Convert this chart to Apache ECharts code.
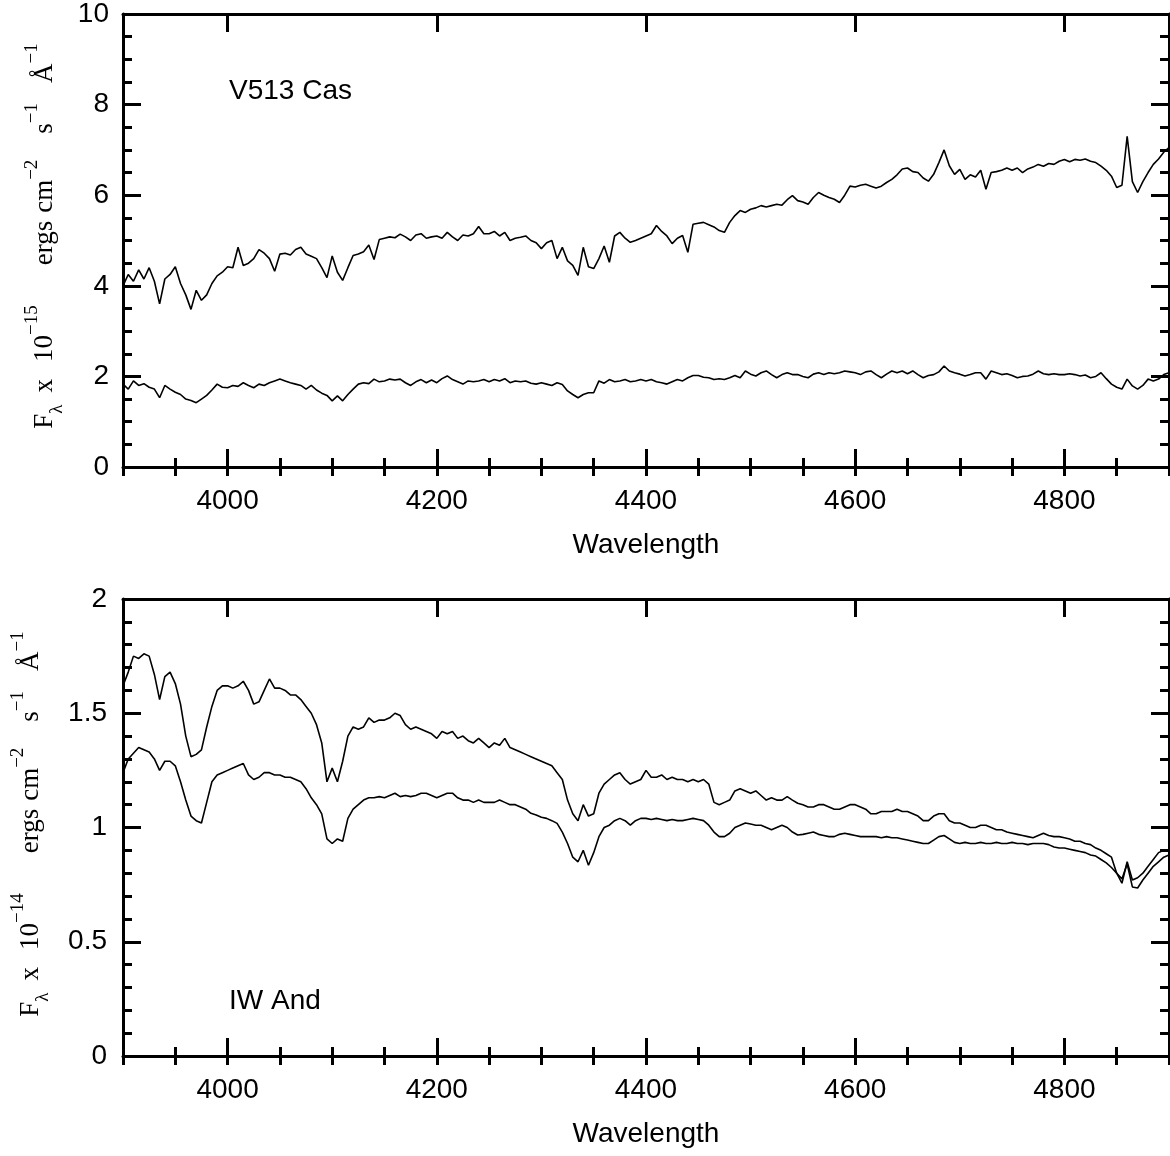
<!DOCTYPE html>
<html><head><meta charset="utf-8">
<script src="https://cdn.jsdelivr.net/npm/echarts@6/dist/echarts.min.js"></script>
<style>html,body{margin:0;padding:0;background:#fff}#chart{width:1170px;height:1156px}</style>
</head><body><div id="chart"></div>
<script>
const wavelength = [
3900,3905,3910,3915,3920,3925,3930,3935,3940,3945,
3950,3955,3960,3965,3970,3975,3980,3985,3990,3995,
4000,4005,4010,4015,4020,4025,4030,4035,4040,4045,
4050,4055,4060,4065,4070,4075,4080,4085,4090,4095,
4100,4105,4110,4115,4120,4125,4130,4135,4140,4145,
4150,4155,4160,4165,4170,4175,4180,4185,4190,4195,
4200,4205,4210,4215,4220,4225,4230,4235,4240,4245,
4250,4255,4260,4265,4270,4275,4280,4285,4290,4295,
4300,4305,4310,4315,4320,4325,4330,4335,4340,4345,
4350,4355,4360,4365,4370,4375,4380,4385,4390,4395,
4400,4405,4410,4415,4420,4425,4430,4435,4440,4445,
4450,4455,4460,4465,4470,4475,4480,4485,4490,4495,
4500,4505,4510,4515,4520,4525,4530,4535,4540,4545,
4550,4555,4560,4565,4570,4575,4580,4585,4590,4595,
4600,4605,4610,4615,4620,4625,4630,4635,4640,4645,
4650,4655,4660,4665,4670,4675,4680,4685,4690,4695,
4700,4705,4710,4715,4720,4725,4730,4735,4740,4745,
4750,4755,4760,4765,4770,4775,4780,4785,4790,4795,
4800,4805,4810,4815,4820,4825,4830,4835,4840,4845,
4850,4855,4860,4865,4870,4875,4880,4885,4890,4895,
4900];

// V513 Cas (x 1e-15)
const v513High = [
4.00,4.25,4.10,4.35,4.15,4.40,4.10,3.60,4.15,4.25,
4.42,4.05,3.80,3.48,3.90,3.68,3.80,4.05,4.22,4.30,
4.42,4.40,4.85,4.45,4.50,4.60,4.80,4.72,4.60,4.32,
4.70,4.72,4.68,4.80,4.85,4.70,4.65,4.60,4.40,4.18,
4.66,4.30,4.12,4.40,4.67,4.70,4.75,4.90,4.58,5.02,
5.05,5.08,5.06,5.14,5.08,5.00,5.12,5.15,5.05,5.08,
5.10,5.05,5.18,5.08,5.00,5.12,5.10,5.15,5.31,5.15,
5.15,5.20,5.10,5.18,5.00,5.05,5.07,5.10,5.00,4.95,
4.82,4.95,5.00,4.60,4.85,4.55,4.45,4.23,4.85,4.42,
4.38,4.60,4.88,4.52,5.10,5.18,5.05,4.96,5.00,5.05,
5.10,5.15,5.33,5.20,5.10,4.93,5.05,5.11,4.74,5.36,
5.38,5.40,5.35,5.30,5.22,5.18,5.40,5.55,5.66,5.62,
5.69,5.72,5.77,5.74,5.77,5.80,5.78,5.90,5.99,5.88,
5.85,5.80,5.95,6.06,6.00,5.95,5.91,5.84,6.00,6.20,
6.18,6.22,6.24,6.20,6.16,6.20,6.28,6.35,6.45,6.58,
6.60,6.52,6.50,6.38,6.31,6.46,6.72,7.00,6.65,6.46,
6.57,6.35,6.45,6.40,6.55,6.13,6.50,6.52,6.55,6.60,
6.55,6.60,6.50,6.58,6.62,6.68,6.64,6.70,6.68,6.75,
6.79,6.74,6.79,6.77,6.80,6.75,6.72,6.64,6.55,6.42,
6.17,6.22,7.30,6.30,6.06,6.30,6.50,6.68,6.80,6.95,
7.05];

const v513Low = [
1.83,1.72,1.90,1.80,1.84,1.76,1.72,1.53,1.80,1.72,
1.65,1.60,1.50,1.47,1.42,1.50,1.58,1.70,1.83,1.76,
1.75,1.80,1.78,1.86,1.80,1.75,1.83,1.80,1.86,1.90,
1.94,1.90,1.86,1.83,1.80,1.72,1.80,1.70,1.63,1.58,
1.46,1.57,1.46,1.60,1.72,1.83,1.86,1.84,1.94,1.88,
1.90,1.94,1.92,1.94,1.86,1.80,1.88,1.93,1.86,1.92,
1.86,1.95,2.01,1.93,1.88,1.83,1.90,1.88,1.90,1.93,
1.88,1.93,1.90,1.95,1.86,1.90,1.88,1.90,1.85,1.83,
1.86,1.83,1.80,1.86,1.82,1.68,1.60,1.53,1.60,1.64,
1.64,1.90,1.85,1.93,1.88,1.90,1.93,1.88,1.90,1.93,
1.90,1.93,1.88,1.86,1.83,1.88,1.93,1.90,1.97,2.02,
2.02,1.98,1.97,1.93,1.95,1.93,1.97,2.02,1.97,2.12,
2.05,2.01,2.08,2.12,2.04,1.97,2.04,2.08,2.04,2.04,
2.00,1.97,2.05,2.08,2.04,2.08,2.06,2.08,2.12,2.10,
2.08,2.04,2.10,2.12,2.04,1.97,2.05,2.12,2.08,2.12,
2.06,2.12,2.04,1.97,2.02,2.04,2.10,2.23,2.12,2.08,
2.05,2.01,2.04,2.08,2.08,1.94,2.12,2.08,2.04,2.06,
2.02,1.97,2.00,2.01,2.05,2.12,2.06,2.04,2.06,2.04,
2.04,2.06,2.04,2.01,2.03,1.97,2.00,2.08,1.95,1.83,
1.76,1.72,1.94,1.79,1.72,1.80,1.94,1.90,1.94,2.04,
2.08];

// IW And (x 1e-14)
const iwAndHigh = [
1.62,1.68,1.75,1.74,1.76,1.75,1.67,1.56,1.66,1.68,
1.63,1.54,1.40,1.31,1.32,1.34,1.44,1.53,1.60,1.62,
1.62,1.61,1.62,1.64,1.60,1.54,1.55,1.60,1.65,1.61,
1.61,1.60,1.58,1.58,1.56,1.53,1.50,1.45,1.37,1.20,
1.26,1.20,1.29,1.40,1.44,1.43,1.44,1.48,1.46,1.47,
1.47,1.48,1.50,1.49,1.45,1.43,1.44,1.43,1.42,1.41,
1.39,1.42,1.41,1.42,1.39,1.40,1.38,1.37,1.39,1.37,
1.35,1.37,1.36,1.39,1.35,1.34,1.33,1.32,1.31,1.30,
1.29,1.28,1.27,1.24,1.21,1.12,1.06,1.03,1.10,1.05,
1.06,1.15,1.19,1.21,1.23,1.24,1.21,1.19,1.20,1.21,
1.25,1.22,1.22,1.23,1.21,1.22,1.21,1.21,1.20,1.21,
1.20,1.21,1.19,1.11,1.10,1.11,1.12,1.16,1.17,1.16,
1.15,1.16,1.14,1.12,1.13,1.12,1.12,1.135,1.12,1.106,
1.10,1.09,1.09,1.10,1.10,1.09,1.08,1.08,1.09,1.10,
1.10,1.09,1.08,1.06,1.06,1.07,1.07,1.07,1.08,1.07,
1.07,1.06,1.05,1.03,1.03,1.05,1.06,1.06,1.03,1.02,
1.02,1.01,1.00,1.00,1.01,1.01,1.00,0.99,0.99,0.98,
0.975,0.97,0.965,0.96,0.955,0.965,0.975,0.965,0.96,0.96,
0.955,0.95,0.94,0.94,0.93,0.925,0.91,0.90,0.885,0.87,
0.80,0.756,0.85,0.77,0.78,0.80,0.83,0.86,0.89,0.90,
0.90];

const iwAndLow = [
1.24,1.30,1.325,1.35,1.34,1.33,1.30,1.25,1.29,1.29,
1.27,1.20,1.12,1.05,1.03,1.02,1.11,1.20,1.23,1.24,
1.25,1.26,1.27,1.28,1.23,1.21,1.22,1.24,1.24,1.23,
1.23,1.22,1.22,1.21,1.20,1.17,1.13,1.10,1.06,0.95,
0.93,0.95,0.94,1.04,1.08,1.10,1.12,1.13,1.13,1.135,
1.13,1.14,1.15,1.135,1.14,1.135,1.14,1.15,1.15,1.14,
1.13,1.14,1.15,1.15,1.13,1.12,1.12,1.11,1.12,1.11,
1.11,1.11,1.12,1.11,1.10,1.10,1.09,1.08,1.062,1.055,
1.045,1.04,1.03,1.018,0.98,0.93,0.87,0.85,0.90,0.835,
0.89,0.96,1.00,1.01,1.03,1.04,1.03,1.01,1.03,1.04,
1.04,1.035,1.04,1.035,1.03,1.035,1.03,1.03,1.035,1.04,
1.035,1.03,1.01,0.98,0.96,0.96,0.975,1.00,1.01,1.02,
1.015,1.01,1.01,1.00,0.99,1.00,1.01,1.00,0.98,0.967,
0.97,0.975,0.98,0.97,0.965,0.96,0.96,0.97,0.975,0.97,
0.965,0.96,0.96,0.96,0.96,0.955,0.96,0.955,0.955,0.95,
0.945,0.94,0.935,0.93,0.93,0.945,0.96,0.965,0.95,0.935,
0.93,0.935,0.93,0.93,0.935,0.93,0.93,0.935,0.93,0.93,
0.935,0.93,0.93,0.925,0.93,0.93,0.93,0.925,0.915,0.91,
0.91,0.905,0.90,0.895,0.89,0.88,0.875,0.86,0.845,0.825,
0.80,0.775,0.84,0.74,0.735,0.77,0.80,0.83,0.85,0.87,
0.88];

const xMajorTicks = [4000, 4200, 4400, 4600, 4800];
const xLabels = [4000, 4200, 4400, 4600, 4800];
const xRange = [3900, 4900];
const topYRange = [0, 10];
const bottomYRange = [0, 2];
const topTitle = 'V513 Cas';
const bottomTitle = 'IW And';
const xName = 'Wavelength';

const BLACK = '#000';
const SANS = '"Liberation Sans", Arial, Helvetica, sans-serif';
const SERIF = '"Liberation Serif", "Times New Roman", serif';

function pair(xs, ys) { return xs.map((x, i) => [x, ys[i]]); }

const grids = [
  { left: 123, right: 1, top: 10, height: 457 },
  { left: 123, right: 1, top: 599, height: 457 }
];

function xAxesFor(g) {
  const base = {
    gridIndex: g, type: 'value', min: xRange[0], max: xRange[1],
    splitLine: { show: false }
  };
  return [
    Object.assign({}, base, {
      position: 'bottom',
      axisLine: { show: true, onZero: false, lineStyle: { color: BLACK, width: 3 } },
      axisTick: { show: true, inside: true, length: 18, lineStyle: { color: BLACK, width: 3 }, customValues: xMajorTicks },
      axisLabel: { show: true, customValues: xLabels, fontSize: 28, fontFamily: SANS, color: BLACK, margin: 20,
                   formatter: function (v) { return String(v); } },
      name: xName, nameLocation: 'middle', nameGap: 64,
      nameTextStyle: { fontSize: 28, fontFamily: SANS, color: BLACK }
    }),
    Object.assign({}, base, {
      position: 'bottom', interval: 50,
      axisLine: { show: false },
      axisTick: { show: true, inside: true, length: 9, lineStyle: { color: BLACK, width: 3 } },
      axisLabel: { show: false }
    }),
    Object.assign({}, base, {
      position: 'top',
      axisLine: { show: true, onZero: false, lineStyle: { color: BLACK, width: 3 } },
      axisTick: { show: true, inside: true, length: 18, lineStyle: { color: BLACK, width: 3 }, customValues: xMajorTicks },
      axisLabel: { show: false }
    }),
    Object.assign({}, base, {
      position: 'top', interval: 50,
      axisLine: { show: false },
      axisTick: { show: true, inside: true, length: 9, lineStyle: { color: BLACK, width: 3 } },
      axisLabel: { show: false }
    })
  ];
}

function yAxesFor(g, range, interval, minorSplit, margin) {
  const base = {
    gridIndex: g, type: 'value', min: range[0], max: range[1], interval: interval,
    splitLine: { show: false },
    axisLine: { show: true, onZero: false, lineStyle: { color: BLACK, width: 3 } },
    axisTick: { show: true, inside: true, length: 18, lineStyle: { color: BLACK, width: 3 } },
    minorTick: { show: true, splitNumber: minorSplit, length: 9, lineStyle: { color: BLACK, width: 3 } },
    minorSplitLine: { show: false }
  };
  return [
    Object.assign({}, base, {
      position: 'left',
      axisLabel: { show: true, fontSize: 28, fontFamily: SANS, color: BLACK, margin: margin, padding: [13, 0, 0, 0] }
    }),
    Object.assign({}, base, {
      position: 'right',
      axisLabel: { show: false }
    })
  ];
}

const richY = {
  m: { fontFamily: SERIF, fontSize: 27, fill: BLACK, color: BLACK, verticalAlign: 'middle', lineHeight: 27 },
  sup: { fontFamily: SERIF, fontSize: 19, fill: BLACK, color: BLACK, verticalAlign: 'top', lineHeight: 19 },
  sub: { fontFamily: SERIF, fontSize: 19, fill: BLACK, color: BLACK, verticalAlign: 'bottom', lineHeight: 19 },
  g1: { width: 12, lineHeight: 44, fontSize: 27 },
  g2: { width: 17, lineHeight: 44, fontSize: 27 },
  g3: { width: 40, lineHeight: 44, fontSize: 27 },
  g4: { width: 8, lineHeight: 44, fontSize: 27 },
  g5: { width: 26, lineHeight: 44, fontSize: 27 },
  g6: { width: 20, lineHeight: 44, fontSize: 27 }
};
function yName(exp) {
  return '{m|F}{sub|λ}{g1| }{m|x}{g2| }{m|10}{sup|−' + exp + '}{g3| }{m|ergs}{g4| }{m|cm}{sup|−2}{g5| }{m|s}{sup|−1}{g6| }{m|Å}{sup|−1}';
}

function lineSeries(name, xi, yi, ys) {
  return {
    name: name, type: 'line', xAxisIndex: xi, yAxisIndex: yi,
    data: pair(wavelength, ys), showSymbol: false, symbol: 'none',
    lineStyle: { color: BLACK, width: 1.6 }, animation: false, silent: true
  };
}

const chart = echarts.init(document.getElementById('chart'), null, { renderer: 'canvas' });
chart.setOption({
  backgroundColor: '#fff',
  animation: false,
  grid: grids,
  xAxis: xAxesFor(0).concat(xAxesFor(1)),
  yAxis: yAxesFor(0, topYRange, 2, 4, 14).concat(yAxesFor(1, bottomYRange, 0.5, 5, 16)),
  series: [
    lineSeries('V513 Cas high', 0, 0, v513High),
    lineSeries('V513 Cas low', 0, 0, v513Low),
    lineSeries('IW And high', 4, 2, iwAndHigh),
    lineSeries('IW And low', 4, 2, iwAndLow)
  ],
  graphic: [
    { type: 'text', x: 229, y: 91, style: { text: topTitle, fontSize: 28, fontFamily: SANS, fill: BLACK, align: 'left', verticalAlign: 'middle' } },
    { type: 'text', x: 229, y: 1001, style: { text: bottomTitle, fontSize: 28, fontFamily: SANS, fill: BLACK, align: 'left', verticalAlign: 'middle' } },
    { type: 'text', x: 45, y: 236, rotation: Math.PI / 2, style: { text: yName('15'), rich: richY, align: 'center', verticalAlign: 'middle', fill: BLACK } },
    { type: 'text', x: 31, y: 824, rotation: Math.PI / 2, style: { text: yName('14'), rich: richY, align: 'center', verticalAlign: 'middle', fill: BLACK } }
  ]
});
</script>
</body></html>
